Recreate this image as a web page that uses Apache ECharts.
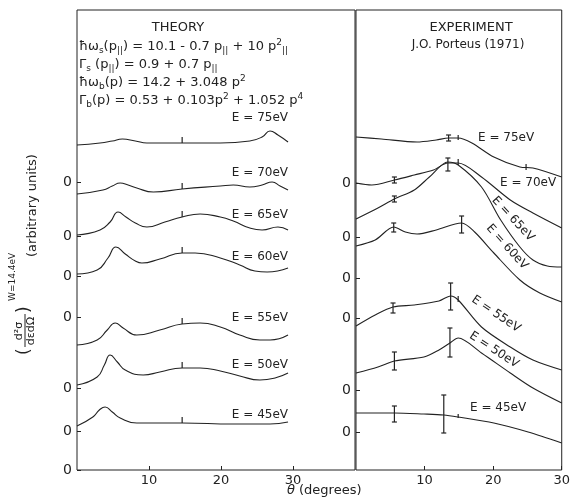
<!DOCTYPE html>
<html>
<head>
<meta charset="utf-8">
<script src="https://cdn.jsdelivr.net/npm/echarts@6/dist/echarts.min.js"></script>
<style>
  html, body { margin: 0; padding: 0; background: #fff; }
  #main { width: 573px; height: 500px; }
</style>
</head>
<body>
<div id="main"></div>
<script>
// x ticks (degrees)
const thetaTicks = [10, 20, 30];
// offsets of the "0" baselines on each panel (arbitrary units)
const zeroTheory = [28.8, 23.4, 19.4, 15.3, 8.2, 3.9, 0];
const zeroExpt = [28.7, 23.3, 19.2, 15.2, 8.0, 3.8];

// theory curves [theta, intensity]
const th75 = [[0,32.5],[3.2,32.7],[4.9,32.9],[6.3,33.1],[8.1,32.9],[9.7,32.7],[14.6,32.7],[19.9,32.7],[24.0,32.9],[25.7,33.3],[26.8,33.9],[27.9,33.5],[29.3,32.8]];
const th70 = [[0,27.6],[3.6,28.0],[4.9,28.4],[6.0,28.7],[7.1,28.5],[8.3,28.2],[10.6,27.8],[14.6,28.1],[19.9,28.4],[21.7,28.5],[24.0,28.3],[25.7,28.5],[27.1,28.8],[28.2,28.4],[29.3,28.0]];
const th65 = [[0,23.5],[3.2,24.0],[4.6,24.8],[5.7,25.8],[6.8,25.3],[8.1,24.7],[9.7,24.3],[12.2,24.8],[14.6,25.3],[17.1,25.6],[19.9,25.3],[21.7,24.9],[24.0,24.2],[25.7,24.0],[27.9,24.3],[29.3,24.0]];
const th60 = [[0,19.6],[2.8,20.0],[4.3,21.2],[5.4,22.3],[6.7,21.6],[8.1,20.9],[9.0,20.7],[11.5,21.1],[14.6,21.7],[16.4,21.7],[19.9,21.2],[22.6,20.5],[24.7,19.9],[26.4,19.8],[29.3,20.2]];
const th55 = [[0,12.5],[2.8,13.0],[4.2,14.0],[5.3,14.7],[6.4,14.2],[8.3,13.5],[11.5,14.0],[14.6,14.6],[17.1,14.7],[19.9,14.3],[22.6,13.5],[25.4,13.0],[26.8,13.0],[29.3,13.5]];
const th50 = [[0,8.5],[2.8,9.3],[3.8,10.5],[4.6,11.5],[5.6,10.8],[6.7,10.0],[9.2,9.5],[11.5,9.8],[14.6,10.2],[17.1,10.2],[19.9,9.9],[22.6,9.4],[25.4,9.0],[27.5,9.2],[29.3,9.7]];
const th45 = [[0,4.4],[2.2,5.3],[3.1,6.0],[3.9,6.3],[4.9,5.8],[6.0,5.2],[8.3,4.7],[14.6,4.7],[21.7,4.6],[26.8,4.6],[29.3,4.8]];
// small marks on theory curves [theta, from, to]
const thMarks = [[14.6,32.7,33.3],[14.6,28.1,28.7],[14.6,25.3,25.9],[14.6,21.7,22.3],[14.6,14.6,15.2],[14.6,10.2,10.8],[14.6,4.7,5.3]];

// experiment curves (Porteus 1971)
const ex75 = [[0,33.3],[3.7,33.1],[8.9,32.8],[11.7,33.0],[13.5,33.2],[14.9,33.2],[16.9,32.7],[20.1,31.3],[23.9,30.3],[25.8,30.2],[30,29.3]];
const ex70 = [[0,28.7],[2.3,28.5],[5.6,29.0],[8.5,29.5],[11.3,30.0],[13.4,30.7],[14.9,30.7],[18.3,29.3],[22.5,27.0],[25.8,25.7],[30,24.2]];
const ex65 = [[0,25.1],[3.2,26.2],[5.6,27.1],[8.5,28.0],[10.7,29.3],[13.4,30.8],[14.9,30.5],[18.3,28.3],[21.1,25.0],[23.9,22.3],[25.8,21.0],[27.9,20.4],[30,20.3]];
const ex60 = [[0,22.4],[2.8,23.0],[5.5,24.3],[7.2,23.8],[8.9,23.6],[11.7,24.0],[15.4,24.7],[17.3,23.8],[20.1,21.7],[23.9,19.0],[26.8,17.7],[30,16.8]];
const ex55 = [[0,14.4],[2.8,15.5],[5.4,16.3],[8.5,16.5],[12.1,16.9],[13.8,17.4],[14.9,17.0],[18.3,14.3],[22.5,12.3],[25.8,11.0],[30,10.0]];
const ex50 = [[0,9.7],[3.2,10.3],[5.6,10.9],[9.9,11.3],[12.1,12.0],[13.7,12.7],[14.9,13.2],[18.3,11.7],[22.5,9.7],[25.8,8.2],[30,6.7]];
const ex45 = [[0,5.7],[5.6,5.7],[9.9,5.6],[12.8,5.5],[14.9,5.3],[20.1,4.7],[25.1,3.8],[30,2.7]];
// error bars [theta, low, high]
const exErr = [[13.5,32.9,33.5],[5.6,28.7,29.3],[13.4,29.9,31.2],[5.6,26.8,27.4],[5.5,23.8,24.7],[15.4,23.7,25.4],[5.4,15.7,16.7],[13.8,16.0,18.7],[5.6,10.0,11.8],[13.7,11.3,14.2],[5.6,4.8,6.4],[12.8,3.7,7.5]];
const exMarks = [[14.9,33.0,33.5],[14.9,30.5,31.1],[24.8,30.0,30.6],[14.9,16.8,17.4],[14.9,5.2,5.6]];

const ink = '#222';
const font = 'DejaVu Sans';

function barItem(cap) {
  return function (params, api) {
    const a = api.coord([api.value(0), api.value(1)]);
    const b = api.coord([api.value(0), api.value(2)]);
    const st = { stroke: ink, lineWidth: 1.2 };
    const kids = [{ type: 'line', shape: { x1: a[0], y1: a[1], x2: b[0], y2: b[1] }, style: st }];
    if (cap) {
      kids.push({ type: 'line', shape: { x1: a[0] - cap, y1: a[1], x2: a[0] + cap, y2: a[1] }, style: st });
      kids.push({ type: 'line', shape: { x1: b[0] - cap, y1: b[1], x2: b[0] + cap, y2: b[1] }, style: st });
    }
    return { type: 'group', children: kids };
  };
}

function curve(data, idx, smooth) {
  return {
    type: 'line', data: data, xAxisIndex: idx, yAxisIndex: idx,
    smooth: smooth, showSymbol: false, symbol: 'none',
    lineStyle: { color: ink, width: 1.1 }, silent: true
  };
}

function xAxisOf(idx, max) {
  return {
    type: 'value', gridIndex: idx, min: 0, max: max,
    axisLine: { show: false }, splitLine: { show: false },
    axisTick: { show: true, inside: true, length: 4, customValues: thetaTicks, lineStyle: { color: ink } },
    axisLabel: { customValues: thetaTicks, color: ink, fontFamily: font, fontSize: 13, margin: 4 }
  };
}

function yAxisOf(idx, zeros) {
  return {
    type: 'value', gridIndex: idx, min: 0, max: 46,
    axisLine: { show: false }, splitLine: { show: false },
    axisTick: { show: true, inside: true, length: 4, customValues: zeros, lineStyle: { color: ink } },
    axisLabel: { customValues: zeros, formatter: () => '0', color: ink, fontFamily: font, fontSize: 14, margin: 5 }
  };
}

function txt(x, y, text, opt) {
  return {
    type: 'text', x: x, y: y,
    style: Object.assign({ text: text, fill: ink, font: '12px ' + font, textVerticalAlign: 'middle' }, opt || {})
  };
}

function rtxt(x, y, text, deg) {
  return {
    type: 'text', x: x, y: y, rotation: deg * Math.PI / 180,
    style: { text: text, fill: ink, font: '12px ' + font, textAlign: 'center', textVerticalAlign: 'middle' }
  };
}

const rich = {
  sub: { fontSize: 9, fontFamily: font, padding: [8, 0, 0, 0], color: ink },
  sup: { fontSize: 9, fontFamily: font, padding: [0, 0, 8, 0], color: ink }
};
function formula(y, text) {
  return { type: 'text', x: 79, y: y, style: { text: text, fill: ink, font: '13px ' + font, rich: rich, textVerticalAlign: 'middle' } };
}

const chart = echarts.init(document.getElementById('main'), null, { renderer: 'canvas' });
chart.setOption({
  animation: false,
  backgroundColor: '#fff',
  grid: [
    { left: 77, top: 10, width: 278, height: 460, show: true, borderColor: ink, borderWidth: 1 },
    { left: 356, top: 10, width: 214, height: 460, show: true, borderColor: ink, borderWidth: 1 }
  ],
  xAxis: [xAxisOf(0, 38.6), xAxisOf(1, 30)],
  yAxis: [yAxisOf(0, zeroTheory), yAxisOf(1, zeroExpt)],
  series: [
    curve(th75, 0, 0.5), curve(th70, 0, 0.5), curve(th65, 0, 0.5), curve(th60, 0, 0.5),
    curve(th55, 0, 0.5), curve(th50, 0, 0.5), curve(th45, 0, 0.5),
    curve(ex75, 1, 0.3), curve(ex70, 1, 0.3), curve(ex65, 1, 0.3), curve(ex60, 1, 0.3),
    curve(ex55, 1, 0.3), curve(ex50, 1, 0.3), curve(ex45, 1, 0.3),
    { type: 'custom', xAxisIndex: 0, yAxisIndex: 0, data: thMarks, renderItem: barItem(0), silent: true },
    { type: 'custom', xAxisIndex: 1, yAxisIndex: 1, data: exErr, renderItem: barItem(2.5), silent: true },
    { type: 'custom', xAxisIndex: 1, yAxisIndex: 1, data: exMarks, renderItem: barItem(0), silent: true }
  ],
  graphic: [
    txt(178, 28, 'THEORY', { textAlign: 'center', font: '13px ' + font }),
    formula(47, 'ħω{sub|s}(p{sub|||}) = 10.1 - 0.7 p{sub|||} + 10 p{sup|2}{sub|||}'),
    formula(65, 'Γ{sub|s} (p{sub|||}) = 0.9 + 0.7 p{sub|||}'),
    formula(83, 'ħω{sub|b}(p) = 14.2 + 3.048 p{sup|2}'),
    formula(101, 'Γ{sub|b}(p) = 0.53 + 0.103p{sup|2} + 1.052 p{sup|4}'),
    txt(471, 28, 'EXPERIMENT', { textAlign: 'center', font: '13px ' + font }),
    txt(468, 45, 'J.O. Porteus (1971)', { textAlign: 'center', font: '12px ' + font }),
    // theory energy labels
    txt(288, 118, 'E = 75eV', { textAlign: 'right' }),
    txt(288, 173, 'E = 70eV', { textAlign: 'right' }),
    txt(288, 215, 'E = 65eV', { textAlign: 'right' }),
    txt(288, 257, 'E = 60eV', { textAlign: 'right' }),
    txt(288, 318, 'E = 55eV', { textAlign: 'right' }),
    txt(288, 365, 'E = 50eV', { textAlign: 'right' }),
    txt(288, 415, 'E = 45eV', { textAlign: 'right' }),
    // experiment energy labels
    txt(478, 138, 'E = 75eV'),
    txt(500, 183, 'E = 70eV'),
    rtxt(513, 219, 'E = 65eV', -47),
    rtxt(507, 247, 'E = 60eV', -48),
    rtxt(496, 314, 'E = 55eV', -34),
    rtxt(494, 350, 'E = 50eV', -33),
    txt(470, 408, 'E = 45eV'),
    // x axis title
    { type: 'text', x: 287, y: 491, style: { text: 'θ', fill: ink, font: 'italic 13px ' + font, textVerticalAlign: 'middle' } },
    txt(299, 491, '(degrees)', { font: '13px ' + font }),
    // y axis title, rotated
    {
      type: 'group', x: 25, y: 357, rotation: Math.PI / 2,
      children: [
        { type: 'text', x: 2, y: 0, style: { text: '(', fill: ink, font: '17px ' + font, textVerticalAlign: 'middle' } },
        { type: 'text', x: 26, y: -6, style: { text: 'd²σ', fill: ink, font: '11px ' + font, textAlign: 'center', textVerticalAlign: 'middle' } },
        { type: 'line', shape: { x1: 10, y1: 0, x2: 43, y2: 0 }, style: { stroke: ink, lineWidth: 1 } },
        { type: 'text', x: 26, y: 6, style: { text: 'dεdΩ', fill: ink, font: '11px ' + font, textAlign: 'center', textVerticalAlign: 'middle' } },
        { type: 'text', x: 44, y: 0, style: { text: ')', fill: ink, font: '17px ' + font, textVerticalAlign: 'middle' } },
        { type: 'text', x: 56, y: -12, style: { text: 'W=14.4eV', fill: ink, font: '9px ' + font, textVerticalAlign: 'middle' } },
        { type: 'text', x: 100, y: 8, style: { text: '(arbitrary units)', fill: ink, font: '13px ' + font, textVerticalAlign: 'middle' } }
      ]
    }
  ]
});
</script>
</body>
</html>
